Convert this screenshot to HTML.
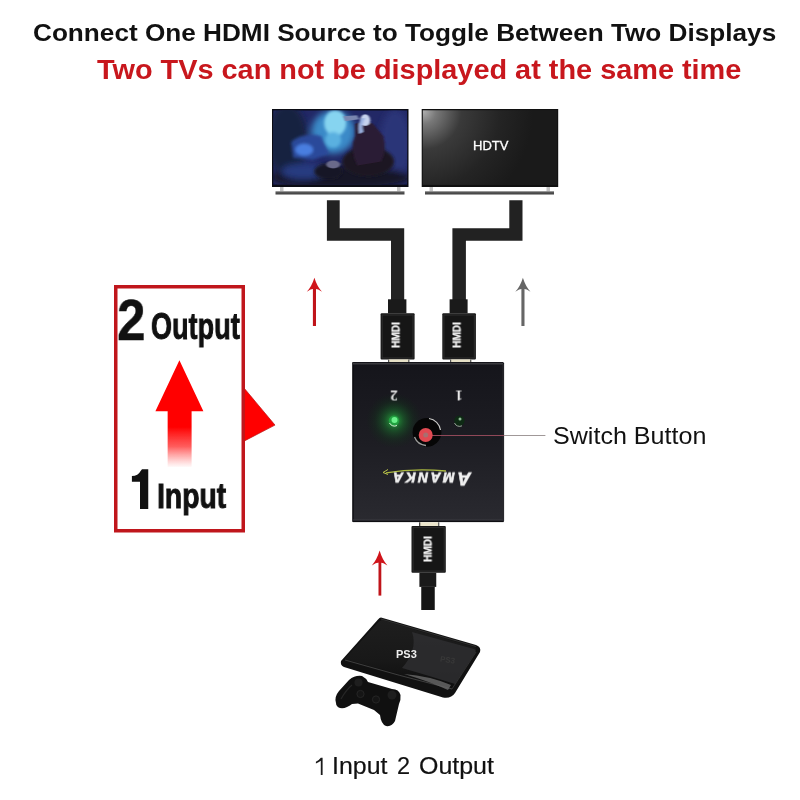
<!DOCTYPE html>
<html><head><meta charset="utf-8">
<style>
html,body{margin:0;padding:0;background:#fff;}
body{width:800px;height:800px;position:relative;overflow:hidden;font-family:"Liberation Sans",sans-serif;-webkit-font-smoothing:antialiased;}
.t,.hm span,.rot span{will-change:transform;}
.a{position:absolute;}
.t{position:absolute;white-space:nowrap;line-height:1;}
.hm{position:absolute;width:0;height:0;}
.rot{position:absolute;width:0;height:0;}
.rot span{position:absolute;left:0;top:0;line-height:1;white-space:nowrap;transform:translate(-50%,-50%) rotate(180deg);}
.hm span{position:absolute;left:0;top:0;font-size:11px;line-height:11px;font-weight:700;color:#f4f4f4;-webkit-text-stroke:0.25px #f4f4f4;white-space:nowrap;transform:translate(-50%,-50%) rotate(-90deg) scaleX(0.92);}
</style></head><body>

<!-- Titles -->
<div class="t" id="t1" style="left:33px;top:20.5px;font-size:24px;font-weight:700;color:#111;transform-origin:0 0;transform:scaleX(1.09);">Connect One HDMI Source to Toggle Between Two Displays</div>
<div class="t" id="t2" style="left:96.8px;top:56px;font-size:28px;font-weight:700;color:#c8171d;transform-origin:0 0;transform:scaleX(1.031);">Two TVs can not be displayed at the same time</div>

<svg class="a" style="left:0;top:0" width="800" height="800" viewBox="0 0 800 800">
  <defs>
    <radialGradient id="glow1" cx="0.45" cy="0.25" r="0.35">
      <stop offset="0" stop-color="#7fd8f5"/>
      <stop offset="0.5" stop-color="#3a7fc0"/>
      <stop offset="1" stop-color="#3a7fc0" stop-opacity="0"/>
    </radialGradient>
    <radialGradient id="tv2g" gradientUnits="userSpaceOnUse" cx="423" cy="111" r="110">
      <stop offset="0" stop-color="#b0b0b0"/>
      <stop offset="0.12" stop-color="#787878"/>
      <stop offset="0.35" stop-color="#3a3a3a"/>
      <stop offset="0.7" stop-color="#242424"/>
      <stop offset="1" stop-color="#1a1a1a"/>
    </radialGradient>
    <linearGradient id="standg" x1="0" y1="0" x2="0" y2="1">
      <stop offset="0" stop-color="#8a8a8a"/>
      <stop offset="0.4" stop-color="#555"/>
      <stop offset="1" stop-color="#3c3c3c"/>
    </linearGradient>
    <radialGradient id="ledglow" cx="0.5" cy="0.5" r="0.5">
      <stop offset="0" stop-color="#30e050" stop-opacity="0.75"/>
      <stop offset="0.35" stop-color="#1a8a30" stop-opacity="0.45"/>
      <stop offset="0.7" stop-color="#0e4a1a" stop-opacity="0.2"/>
      <stop offset="1" stop-color="#0a3010" stop-opacity="0"/>
    </radialGradient>
    <linearGradient id="arrowfade" gradientUnits="userSpaceOnUse" x1="0" y1="360" x2="0" y2="468">
      <stop offset="0" stop-color="#f00"/>
      <stop offset="0.62" stop-color="#f00"/>
      <stop offset="0.8" stop-color="#f33" stop-opacity="0.8"/>
      <stop offset="1" stop-color="#f66" stop-opacity="0"/>
    </linearGradient>
    <linearGradient id="ps3g" x1="0" y1="0" x2="0" y2="1">
      <stop offset="0" stop-color="#1e1e1e"/>
      <stop offset="0.6" stop-color="#181818"/>
      <stop offset="1" stop-color="#0e0e0e"/>
    </linearGradient>
    <linearGradient id="boxg" x1="0" y1="0" x2="0" y2="1">
      <stop offset="0" stop-color="#15151b"/>
      <stop offset="0.5" stop-color="#1d1d23"/>
      <stop offset="1" stop-color="#2a2a30"/>
    </linearGradient>
  </defs>

  <!-- Left TV -->
  <rect x="272" y="109" width="136.5" height="78" fill="#0b0c14"/>
  <svg x="273.2" y="110.3" width="134" height="74.5" viewBox="0 0 134 75.5" preserveAspectRatio="none">
    <defs>
      <filter id="bl3" x="-50%" y="-50%" width="200%" height="200%"><feGaussianBlur stdDeviation="3"/></filter>
      <filter id="bl2" x="-50%" y="-50%" width="200%" height="200%"><feGaussianBlur stdDeviation="1.6"/></filter>
      <filter id="bl1" x="-50%" y="-50%" width="200%" height="200%"><feGaussianBlur stdDeviation="0.8"/></filter>
    </defs>
    <rect width="134" height="75.5" fill="#222866"/>
    <g filter="url(#bl3)">
      <ellipse cx="14" cy="30" rx="20" ry="36" fill="#182240"/>
      <ellipse cx="60" cy="22" rx="22" ry="22" fill="#3a8ac8"/>
      <ellipse cx="122" cy="35" rx="16" ry="36" fill="#2c3478"/>
      <ellipse cx="67" cy="68" rx="70" ry="12" fill="#141626"/>
      <ellipse cx="30" cy="62" rx="22" ry="8" fill="#283a80"/>
    </g>
    <g filter="url(#bl2)">
      <ellipse cx="62" cy="13" rx="11" ry="13" fill="#86d4f0"/>
      <ellipse cx="60" cy="30" rx="8" ry="8" fill="#5ab0e0"/>
      <path d="M18 32 Q30 22 48 26 L56 44 L40 50 L20 48 Z" fill="#2a4a9a"/>
      <ellipse cx="31" cy="40" rx="9" ry="6" fill="#4a7ee0"/>
      <ellipse cx="95" cy="52" rx="26" ry="15" fill="#1c1624"/>
      <ellipse cx="55" cy="62" rx="14" ry="8" fill="#171726"/>
    </g>
    <g filter="url(#bl1)">
      <path d="M82 14 Q92 8 100 14 L110 26 Q114 40 108 52 L84 56 Q76 40 82 26 Z" fill="#2c1c34"/>
      <ellipse cx="92" cy="10" rx="5" ry="6" fill="#c6d2ee"/>
      <path d="M88 8 Q84 14 86 24 L90 22 Q88 14 92 8 Z" fill="#9ab0e0"/>
      <path d="M70 6 L84 5 L86 9 L72 11 Z" fill="#7a86b0"/>
      <ellipse cx="60" cy="55" rx="7" ry="4" fill="#6a6a8a"/>
    </g>
  </svg>
  <rect x="280" y="187" width="3.5" height="4.5" fill="#c4c4c4"/>
  <rect x="397" y="187" width="3.5" height="4.5" fill="#c4c4c4"/>
  <rect x="275.5" y="191.2" width="129" height="3.3" fill="url(#standg)"/>

  <!-- Right TV -->
  <rect x="421.7" y="109" width="136.5" height="78" fill="#101010"/>
  <rect x="422.8" y="110.3" width="134.3" height="74.5" fill="#1c1c1c"/>
  <rect x="422.8" y="110.3" width="134.3" height="74.5" fill="url(#tv2g)"/>
  <rect x="429.5" y="187" width="3.5" height="4.5" fill="#c4c4c4"/>
  <rect x="546.5" y="187" width="3.5" height="4.5" fill="#c4c4c4"/>
  <rect x="425" y="191.2" width="129" height="3.3" fill="url(#standg)"/>

  <!-- Cables top -->
  <path d="M326.9 200.2 H339.7 V228.2 H404.2 V300 H391 V240.7 H326.9 Z" fill="#222"/>
  <path d="M522.5 200.2 H509.3 V228.2 H452.4 V300 H465.9 V240.7 H522.5 Z" fill="#222"/>

  <!-- Top arrows -->
  <rect x="312.9" y="288" width="3.1" height="38" fill="#c0141a"/>
  <path d="M314.4 277.7 Q317.06 286.38 322.00 291.7 Q317.82 288.50 314.4 288.7 Q310.98 288.50 306.80 291.7 Q311.74 286.38 314.4 277.7 Z" fill="#d0141a"/>
  <rect x="521.4" y="288" width="3.1" height="38" fill="#666"/>
  <path d="M522.9 277.7 Q525.56 286.38 530.50 291.7 Q526.32 288.50 522.9 288.7 Q519.48 288.50 515.30 291.7 Q520.24 286.38 522.9 277.7 Z" fill="#666"/>

  <!-- Connectors top -->
  <rect x="388" y="299.3" width="18.4" height="14" fill="#1a1a1a"/>
  <rect x="380.6" y="313.3" width="34" height="46.3" rx="1" fill="#161616"/><rect x="382.2" y="315" width="30.8" height="43" fill="none" stroke="#2e2e2e" stroke-width="1"/>
  <rect x="388" y="359.4" width="21.4" height="3" fill="#e6e0c6"/><rect x="388" y="359.4" width="1.2" height="3" fill="#555"/><rect x="408.2" y="359.4" width="1.2" height="3" fill="#555"/>
  <rect x="449.6" y="299.3" width="18" height="14" fill="#1a1a1a"/>
  <rect x="442.3" y="313.3" width="33.6" height="46.3" rx="1" fill="#161616"/><rect x="443.9" y="315" width="30.4" height="43" fill="none" stroke="#2e2e2e" stroke-width="1"/>
  <rect x="450" y="359.4" width="21.3" height="3" fill="#e6e0c6"/><rect x="450" y="359.4" width="1.2" height="3" fill="#555"/><rect x="470.1" y="359.4" width="1.2" height="3" fill="#555"/>

  <!-- Left box -->
  <rect x="115.75" y="286.75" width="127.5" height="244" fill="none" stroke="#c0161c" stroke-width="3.5"/>
  <path d="M244.5 388.6 L275 425.1 L244.5 440.9 Z" fill="#f00" stroke="#b81818" stroke-width="0.7"/>
  <path d="M179.4 360.2 L203.4 411.25 L191.6 411.25 L191.6 467 L167.65 467 L167.65 411.25 L155.4 411.25 Z" fill="url(#arrowfade)"/>

  <path d="M131.9 476 Q138 476 141 470.5 L142 469.2 L148.25 469.2 L148.25 508.9 L140 508.9 L140 481.7 L131.9 481.7 Z" fill="#111"/>

  <!-- Switch box -->
  <rect x="352.4" y="362" width="151.7" height="160.1" rx="1.5" fill="url(#boxg)"/><rect x="352.4" y="362" width="1.3" height="160" fill="#0e0e12"/><rect x="353" y="519.5" width="150.5" height="1.2" fill="#3a3a40"/><rect x="353" y="520.7" width="150.5" height="1.4" fill="#0e0e12"/>
  <rect x="353" y="363" width="150" height="1.5" fill="#3a3a3e"/>
  <rect x="502.5" y="364" width="1.2" height="157" fill="#2a2a2e"/>
  <circle cx="394" cy="420.6" r="28" fill="url(#ledglow)"/>
  <circle cx="394" cy="420.6" r="5.2" fill="#22a040"/>
  <circle cx="394.5" cy="420" r="3" fill="#6af08a"/>
  <path d="M389.5 423 A5.5 5.5 0 0 0 397 425.5" stroke="#d8f0d8" stroke-width="1" fill="none"/>
  <circle cx="459.4" cy="420.6" r="5.2" fill="#0e2a14"/>
  <circle cx="460" cy="419" r="1.5" fill="#8ab890"/>
  <path d="M454.5 423 A5.5 5.5 0 0 0 462 425.8" stroke="#9aa89a" stroke-width="1" fill="none"/>
  <circle cx="427" cy="432.3" r="14.4" fill="#060606"/>
  <path d="M429 418.5 A13.5 13.5 0 0 1 440.5 430" stroke="#c8c8c8" stroke-width="1.2" fill="none"/>
  <path d="M414.5 437 A13.5 13.5 0 0 0 426 445.5" stroke="#9a9a9a" stroke-width="1.4" fill="none"/>
  <line x1="427" y1="435.5" x2="505" y2="435.5" stroke="#904858" stroke-width="1"/>
  <line x1="504" y1="435.5" x2="545.4" y2="435.5" stroke="#a09898" stroke-width="1"/>
  <circle cx="425.7" cy="435" r="7" fill="#e24a52"/>
  <circle cx="425.7" cy="435" r="2.5" fill="#a87070"/>
  <path d="M386 472.8 Q414 468 446 471" stroke="#aab840" stroke-width="1.3" fill="none"/>
  <path d="M383 472.5 L388 469.5 M383 472.5 L388 474.5" stroke="#b9c24a" stroke-width="1" fill="none"/>

  <!-- Bottom connector -->
  <rect x="419" y="522.3" width="20.3" height="3.8" fill="#ece6cc"/><rect x="419" y="522.3" width="1.3" height="3.8" fill="#444"/><rect x="438" y="522.3" width="1.3" height="3.8" fill="#666"/>
  <rect x="411.5" y="526" width="34.3" height="46.75" rx="1" fill="#161616"/><rect x="413.1" y="527.6" width="31.1" height="43.5" fill="none" stroke="#2e2e2e" stroke-width="1"/>
  <rect x="419.4" y="572.75" width="16.85" height="14.15" fill="#1a1a1a"/>
  <rect x="421.25" y="586.9" width="13.5" height="23.1" fill="#151515"/>

  <!-- Bottom arrow -->
  <rect x="378.5" y="560" width="2.8" height="35.6" fill="#c0141a"/>
  <path d="M379.6 550.6 Q382.33 559.90 387.40 565.6 Q383.11 562.40 379.6 562.6 Q376.09 562.40 371.80 565.6 Q376.87 559.90 379.6 550.6 Z" fill="#d0141a"/>

  <!-- PS3 -->
  <path d="M381 617.5 L476 645 Q481.5 647 480 652 L455 693 Q451 699 443 697.5 L344 667 Q340 665.5 341 661 L378 619.5 Q379.5 617.5 381 617.5 Z" fill="#111"/>
  <path d="M382 620 L474 647 Q477 648.5 475.5 651.5 L452 688 L344.5 659 L379 621.5 Z" fill="url(#ps3g)"/>
  <path d="M412 632 L474 649 Q476.5 650 475 653 L455 684 Q430 676 402 668 Q418 650 412 632 Z" fill="#2e2e30" opacity="0.85"/>
  <path d="M381 619 L476 646.5" stroke="#3a3a3a" stroke-width="0.8" fill="none"/>
  <path d="M345 660 Q400 676 452 689" stroke="#4a4a4a" stroke-width="0.8" fill="none"/>
  <path d="M404 674 Q430 676 451 685 L448 690 Q428 681 404 674 Z" fill="#6a6a6a" opacity="0.8"/>
  <path d="M452 689 L476 652" stroke="#333" stroke-width="0.9" fill="none"/>
  <text x="440" y="663" font-family="Liberation Sans" font-size="8" font-weight="700" fill="#383838" transform="rotate(8 450 660)">PS3</text>

  <!-- Controller -->
  <path d="M336 703 Q334 697 339 691 L349 680 Q355 675 362 676 Q366 678 368 682 L392 689 Q399 689 400.5 695 Q401 700 399 704 L395 721 Q392 727 386 726 Q381 724 380 715 L374 710 L358 703.5 L352 704 Q346 709 340 708 Q336 706.5 336 703 Z" fill="#101010"/>
  <circle cx="358.5" cy="682.5" r="4" fill="#1e1e1e"/>
  <circle cx="392" cy="695" r="4.5" fill="#1e1e1e"/>
  <circle cx="360.5" cy="694" r="3.6" fill="#151515" stroke="#2a2a2a" stroke-width="0.8"/>
  <circle cx="376" cy="699.5" r="3.6" fill="#151515" stroke="#2a2a2a" stroke-width="0.8"/>
  <path d="M341 699 Q346 690 352 685" stroke="#262626" stroke-width="1.2" fill="none"/>
</svg>

<div class="t" id="b2" style="left:116.5px;top:292px;font-size:57px;font-weight:700;color:#111;transform-origin:0 0;transform:scaleX(0.9);-webkit-text-stroke:0.4px #111;">2</div>
<div class="t" id="bo" style="left:150.5px;top:308px;font-size:37.5px;font-weight:700;color:#111;transform-origin:0 0;transform:scaleX(0.722);-webkit-text-stroke:0.9px #111;">Output</div>
<div class="t" id="bi" style="left:157px;top:479px;font-size:34.5px;font-weight:700;color:#111;transform-origin:0 0;transform:scaleX(0.82);-webkit-text-stroke:0.9px #111;">Input</div>
<div class="t" style="left:473px;top:139px;font-size:13px;color:#fff;-webkit-text-stroke:0.3px #fff;">HDTV</div>
<div class="hm" style="left:395.9px;top:335.4px;"><span>HMDI</span></div>
<div class="hm" style="left:457px;top:335.4px;"><span>HMDI</span></div>
<div class="hm" style="left:427.5px;top:549.4px;"><span>HMDI</span></div>

<div class="rot" style="left:393.7px;top:395px;"><span style="font-family:'Liberation Serif',serif;font-size:15px;font-weight:700;color:#e8e8e8;">2</span></div>
<div class="rot" style="left:459.1px;top:395px;"><span style="font-family:'Liberation Serif',serif;font-size:15px;font-weight:700;color:#e8e8e8;">1</span></div>
<div class="rot" style="left:431.3px;top:479.3px;"><span style="font-size:14px;font-weight:700;color:#f2f2f2;font-style:italic;-webkit-text-stroke:0.6px #f2f2f2;letter-spacing:2.4px;"><span style="font-size:19px;position:static;transform:none;">A</span>MANKA</span></div>
<div class="t" style="left:552.8px;top:423.6px;font-size:24px;color:#111;transform-origin:0 0;transform:scaleX(1.045);">Switch Button</div>
<div class="t" id="w1" style="left:332px;top:755px;font-size:23.5px;color:#111;-webkit-text-stroke:0.2px #111;transform-origin:0 0;transform:scaleX(1.06);">Input</div>
<div class="t" id="w2" style="left:397px;top:755px;font-size:23.5px;color:#111;-webkit-text-stroke:0.2px #111;">2</div>
<div class="t" id="w3" style="left:418.5px;top:755px;font-size:23.5px;color:#111;-webkit-text-stroke:0.2px #111;transform-origin:0 0;transform:scaleX(1.062);">Output</div>
<svg class="a" style="left:0;top:0" width="800" height="800"><path d="M320.8 757.8 L322.6 757.8 L322.6 775 L320.8 775 L320.8 760.8 Q318.6 762.6 315.9 763.4 L315.9 761.8 Q319 760.4 320.8 757.8 Z" fill="#1a1a1a"/></svg>
<div class="t" style="left:395.5px;top:648.5px;font-size:11px;font-weight:700;color:#eee;">PS3</div>

</body></html>
